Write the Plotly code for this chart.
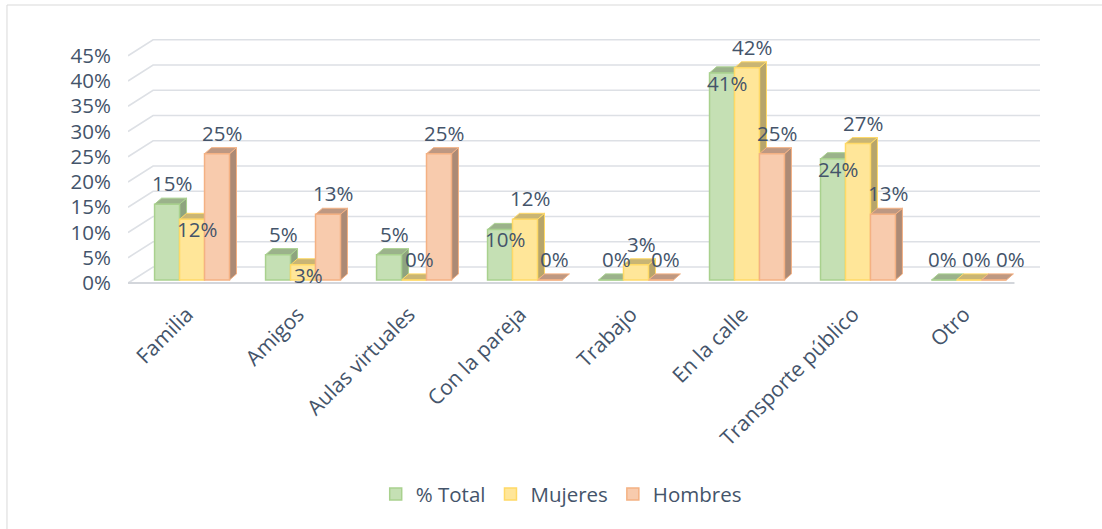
import plotly.graph_objects as go

# ---------------- data ----------------
categories = ["Familia", "Amigos", "Aulas virtuales", "Con la pareja", "Trabajo",
              "En la calle", "Transporte público", "Otro"]
total = [15, 5, 5, 10, 0, 41, 24, 0]
mujeres = [12, 3, 0, 12, 3, 42, 27, 0]
hombres = [25, 13, 25, 0, 0, 25, 13, 0]
series_names = ["% Total", "Mujeres", "Hombres"]
y_ticks = [0, 5, 10, 15, 20, 25, 30, 35, 40, 45]
y_tick_labels = ["0%", "5%", "10%", "15%", "20%", "25%", "30%", "35%", "40%", "45%"]

# ---------------- style ----------------
face = ["#C5E0B4", "#FFE699", "#F8CBAD"]
edge = ["#A9D18E", "#FFD966", "#F4B183"]
side = ["#8EA47F", "#B7A56B", "#AC8A75"]
topc = ["#9BB28B", "#C9B574", "#BE9882"]
TXT = "#44546A"
FONT = "Open Sans"

W = 0.225      # bar width (category units)
DX = 0.063     # 3D depth, x
DY = 1.2       # 3D depth, y
GX0, GX1, GXR = -0.577, -0.351, 7.64   # grid slant start / back start / right end
FLOOR_R = 7.41
GFRONT, GBACK = -0.6, 2.57

series = [total, mujeres, hombres]

fig = go.Figure()
shapes = []

# back-wall gridlines (with slanted side-wall part)
for v in y_ticks:
    shapes.append(dict(type="path", xref="x", yref="y", layer="below",
                       path=f"M {GX0},{v+GFRONT} L {GX1},{v+GBACK} L {GXR},{v+GBACK}",
                       line=dict(color="#DDE0E5", width=1.6)))
# floor front edge
shapes.append(dict(type="line", xref="x", yref="y", layer="below",
                   x0=GX0, x1=FLOOR_R, y0=GFRONT, y1=GFRONT,
                   line=dict(color="#D3D6DB", width=2.2)))


def pushed_inside(i, k):
    """Excel-like collision handling: a label that would collide with its
    neighbour's label (values within 3 points) is moved inside the lower bar."""
    v = series[k][i]
    if v <= 0:
        return False
    for j in (k - 1, k + 1):
        if 0 <= j < 3:
            o = series[j][i]
            if o >= v and o - v <= 3:
                return True
    return False


annotations = []
for i in range(len(categories)):
    all_equal = series[0][i] == series[1][i] == series[2][i]
    for k, vals in enumerate(series):
        v = vals[i]
        xc = i + (k - 1) * W
        x0, x1 = xc - W / 2, xc + W / 2
        # side face
        if v > 0:
            shapes.append(dict(type="path", xref="x", yref="y", layer="below",
                               path=f"M {x1},{0} L {x1+DX},{DY} L {x1+DX},{v+DY} L {x1},{v} Z",
                               fillcolor=side[k], line=dict(color=edge[k], width=1)))
        # top face
        shapes.append(dict(type="path", xref="x", yref="y", layer="below",
                           path=f"M {x0},{v} L {x1},{v} L {x1+DX},{v+DY} L {x0+DX},{v+DY} Z",
                           fillcolor=topc[k], line=dict(color=edge[k], width=1)))
        ys = -10 if pushed_inside(i, k) else 21
        xs = 8 + (k - 1) * 9 if all_equal else 5
        annotations.append(dict(x=xc, y=v, xref="x", yref="y", text=f"{v}%",
                                showarrow=False, xshift=xs, yshift=ys,
                                font=dict(family=FONT, size=20.5, color=TXT)))

for k, vals in enumerate(series):
    fig.add_trace(go.Bar(
        x=[i + (k - 1) * W for i in range(len(categories))],
        y=vals, width=W, name=series_names[k],
        marker=dict(color=face[k], line=dict(color=edge[k], width=1.5)),
        hoverinfo="skip"))

# chart border (top/left visible)
shapes.append(dict(type="rect", xref="paper", yref="paper",
                   x0=-0.1327, x1=1.08, y0=-1.0, y1=1.098,
                   line=dict(color="#D9D9D9", width=1), layer="below"))

fig.update_layout(
    width=1102, height=529,
    margin=dict(l=128, r=62, t=30, b=244),
    paper_bgcolor="white", plot_bgcolor="white",
    barmode="overlay",
    shapes=shapes, annotations=annotations,
    font=dict(family=FONT, size=20, color=TXT),
    showlegend=True,
    legend=dict(orientation="h", x=0.475, xanchor="center", y=-0.82, yanchor="middle",
                font=dict(family=FONT, size=20.5, color=TXT), traceorder="normal",
                itemwidth=30),
    xaxis=dict(range=[GX0, GXR], tickvals=list(range(len(categories))), ticktext=categories,
               tickangle=-45, showgrid=False, zeroline=False, showline=False,
               ticklabelstandoff=12, ticklabelshift=-5,
               tickfont=dict(family=FONT, size=21, color=TXT)),
    yaxis=dict(range=[-1, 49.5], tickvals=[v + GFRONT for v in y_ticks], ticktext=y_tick_labels,
               showgrid=False, zeroline=False, showline=False,
               ticklabelstandoff=16, tickfont=dict(family=FONT, size=20.5, color=TXT)),
)

fig.write_html("out.html")
